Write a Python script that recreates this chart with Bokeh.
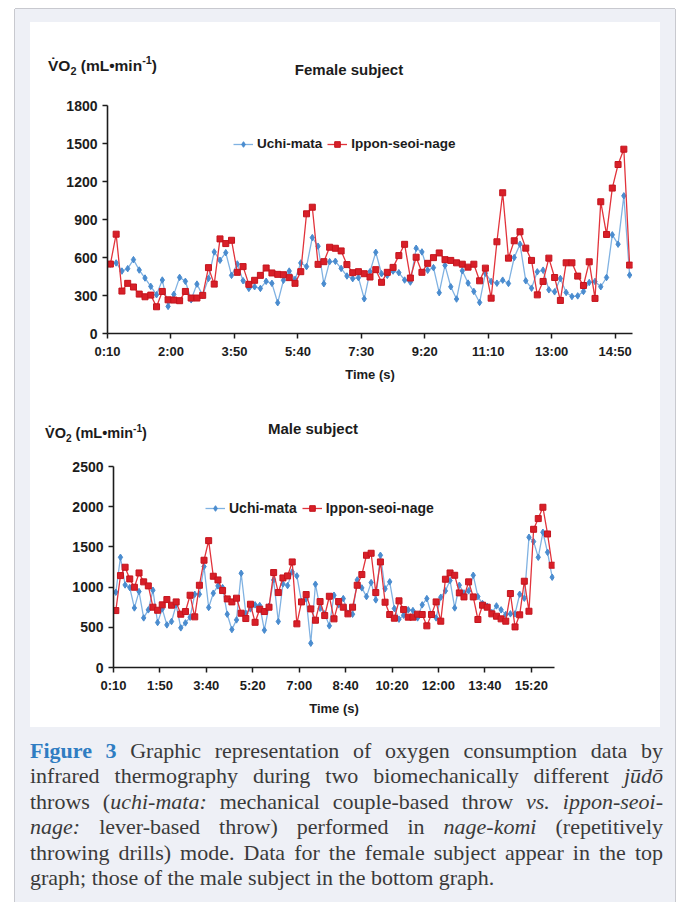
from bokeh.plotting import figure
from bokeh.models import Range1d, FixedTicker, Legend, LegendItem, Div
from bokeh.layouts import column
from bokeh.embed import file_html
from bokeh.resources import INLINE

# ---------------- data ----------------
female_ticks = ["0:10", "2:00", "3:50", "5:40", "7:30", "9:20", "11:10", "13:00", "14:50"]
male_ticks = ["0:10", "1:50", "3:40", "5:20", "7:00", "8:40", "10:20", "12:00", "13:40", "15:20"]

female_uchi = [548, 557, 493, 512, 583, 501, 438, 372, 306, 422,
               214, 309, 443, 412, 266, 390, 301, 435, 644, 578,
               638, 459, 549, 417, 356, 369, 356, 412, 396, 243,
               420, 493, 427, 557, 528, 757, 689, 393, 567, 570,
               514, 454, 433, 441, 274, 488, 641, 472, 459, 493,
               480, 422, 406, 673, 644, 499, 520, 322, 538, 369,
               272, 495, 398, 332, 245, 476, 411, 397, 421, 395,
               600, 705, 416, 358, 487, 500, 345, 329, 434, 324,
               292, 297, 332, 403, 411, 369, 442, 779, 705, 1087,
               461]
female_ippon = [548, 784, 335, 396, 367, 311, 290, 303, 211, 332,
                266, 264, 259, 332, 280, 280, 301, 520, 390, 747,
                710, 736, 483, 528, 388, 420, 459, 517, 478, 467,
                464, 441, 396, 488, 945, 997, 546, 567, 681, 673,
                652, 544, 480, 488, 472, 446, 504, 404, 483, 522,
                615, 704, 438, 602, 483, 554, 599, 636, 583, 577,
                558, 547, 524, 547, 416, 516, 279, 724, 1111, 595,
                732, 803, 674, 577, 305, 411, 595, 442, 261, 558,
                558, 453, 379, 566, 277, 1040, 782, 1148, 1334, 1455,
                540]

male_uchi = [936, 1371, 1027, 994, 741, 944, 617, 717, 961, 559,
             729, 530, 572, 779, 493, 555, 626, 911, 911, 1255,
             746, 924, 1015, 994, 663, 472, 592, 1172, 675, 729,
             779, 771, 464, 762, 1089, 572, 1040, 1019, 1189, 1139,
             820, 853, 302, 1036, 737, 667, 518, 899, 779, 857,
             675, 663, 1089, 990, 882, 1056, 841, 1396, 978, 1065,
             733, 601, 650, 717, 708, 617, 779, 857, 659, 617,
             874, 953, 1081, 741, 1023, 928, 953, 1147, 882, 795,
             762, 684, 766, 717, 659, 667, 667, 911, 862, 1620,
             1566, 1371, 1682, 1433, 1123]
male_ippon = [708, 1143, 1247, 1102, 998, 1176, 1065, 1015, 750, 712,
              779, 845, 775, 816, 663, 696, 899, 630, 1023, 1334,
              1578, 1135, 1089, 957, 853, 816, 862, 675, 609, 787,
              562, 725, 696, 750, 1181, 932, 1114, 1139, 1313, 543,
              816, 907, 729, 588, 820, 646, 886, 605, 820, 750,
              667, 750, 1023, 1156, 1396, 1421, 932, 1313, 812, 659,
              613, 829, 720, 626, 626, 663, 659, 518, 659, 816,
              576, 1098, 1176, 1147, 928, 878, 1065, 878, 597, 775,
              750, 667, 638, 605, 576, 920, 505, 655, 1073, 700,
              1719, 1852, 1993, 1661, 1272]

series_names = ["Uchi-mata", "Ippon-seoi-nage"]
ytitle_html = "V&#775;O<sub style='font-size:70%'>2</sub> (mL&#8226;min<sup style='font-size:70%'>-1</sup>)"
xtitle = "Time (s)"

# ---------------- style ----------------
FONT = "Liberation Sans"
INK = "#1c1c1c"
BLUE_LINE = "#80b2e2"
BLUE_MK = "#4a8ccf"
RED_LINE = "#e2333b"
RED_MK = "#d81f28"


def make_chart(uchi, ippon, tick_labels, per_label, ymax, ystep, width, height,
               borders, legend_loc, legend_fs):
    n = len(uchi)
    xs = [i + 0.5 for i in range(n)]
    left, right, top, bottom = borders
    p = figure(width=width, height=height, x_range=Range1d(0, n), y_range=Range1d(0, ymax),
               output_backend="svg", toolbar_location=None,
               min_border_left=left, min_border_right=right,
               min_border_top=top, min_border_bottom=bottom)
    p.title.visible = False
    p.outline_line_color = None
    p.grid.visible = False
    p.background_fill_color = "white"
    p.border_fill_color = "white"

    l1 = p.line(xs, uchi, line_color=BLUE_LINE, line_width=1.3)
    s1 = p.scatter(xs, uchi, marker="diamond", size=6.5, fill_color=BLUE_MK, line_color=BLUE_MK)
    l2 = p.line(xs, ippon, line_color=RED_LINE, line_width=1.3)
    s2 = p.scatter(xs, ippon, marker="square", size=6, fill_color=RED_MK, line_color="#c4141d")

    p.xaxis.ticker = FixedTicker(ticks=[k * per_label for k in range(len(tick_labels))])
    p.xaxis.major_label_overrides = {k * per_label: lab for k, lab in enumerate(tick_labels)}
    p.yaxis.ticker = FixedTicker(ticks=list(range(0, ymax + 1, ystep)))
    for ax in (p.xaxis, p.yaxis):
        ax.axis_line_color = INK
        ax.axis_line_width = 1.6
        ax.major_tick_line_color = INK
        ax.major_tick_line_width = 1.5
        ax.major_tick_out = 5
        ax.major_tick_in = 0
        ax.minor_tick_line_color = None
        ax.major_label_text_font = FONT
        ax.major_label_text_font_style = "bold"
        ax.major_label_text_color = INK
        ax.major_label_standoff = 5
    p.xaxis.major_label_text_font_size = "13px"
    p.yaxis.major_label_text_font_size = "14px"
    p.xaxis.axis_label = xtitle
    p.xaxis.axis_label_text_font = FONT
    p.xaxis.axis_label_text_font_style = "bold"
    p.xaxis.axis_label_text_font_size = "13px"
    p.xaxis.axis_label_text_color = INK
    p.xaxis.axis_label_standoff = 5

    leg = Legend(items=[LegendItem(label=series_names[0], renderers=[l1, s1]),
                        LegendItem(label=series_names[1], renderers=[l2, s2])],
                 location=legend_loc, orientation="horizontal",
                 border_line_color=None, background_fill_alpha=0,
                 padding=0, margin=0, spacing=5, glyph_width=20, glyph_height=14,
                 label_height=14, label_standoff=4,
                 label_text_font=FONT, label_text_font_style="bold",
                 label_text_font_size=legend_fs, label_text_color=INK)
    p.add_layout(leg)
    return p


def header(title, height, title_cx, title_cy, ytitle_left, ytitle_cy, ytitle_fs):
    html = (f"<div style=\"position:relative;width:630px;height:{height}px;"
            f"font-family:'Liberation Sans';font-weight:bold;color:{INK};\">"
            f"<span style='position:absolute;left:{ytitle_left}px;top:{ytitle_cy}px;"
            f"transform:translateY(-50%);font-size:{ytitle_fs};white-space:nowrap;line-height:1'>"
            f"{ytitle_html}</span>"
            f"<span style='position:absolute;left:{title_cx}px;top:{title_cy}px;"
            f"transform:translate(-50%,-50%);font-size:15px;white-space:nowrap;line-height:1'>"
            f"{title}</span></div>")
    return Div(text=html, width=630, height=height, margin=(0, 0, 0, 0))


# top chart: frame at page x 107..632, y 105..333
head1 = header("Female subject", 60, 319, 47, 18, 44, "15.5px")
fig1 = make_chart(female_uchi, female_ippon, female_ticks, 11, 1800, 300, 630, 313,
                  (77, 28, 23, 62), (126, 182), "13.5px")
fig1.margin = (0, 0, 0, 0)

# bottom chart: frame at page x 113..554, y 466..667
head2 = header("Male subject", 55, 283, 33, 15, 39, "14.5px")
fig2 = make_chart(male_uchi, male_ippon, male_ticks, 10, 2500, 500, 546, 277,
                  (77, 28, 16, 60), (92, 151), "14px")
fig2.margin = (0, 0, 0, 6)

inner1 = column(head1, fig1, margin=(13, 15, 0, 15), styles={"background-color": "white"})
inner2 = column(head2, fig2, margin=(0, 15, 0, 15), styles={"background-color": "white"})

line_style = "text-align:justify;text-align-last:justify;"
last_style = "text-align:left;"
cap_lines = [
    "<b style='color:#2f7dc2'>Figure 3</b> Graphic representation of oxygen consumption data by",
    "infrared thermography during two biomechanically different <i>j\u016bd\u014d</i>",
    "throws (<i>uchi-mata:</i> mechanical couple-based throw <i>vs. ippon-seoi-</i>",
    "<i>nage:</i> lever-based throw) performed in <i>nage-komi</i> (repetitively",
    "throwing drills) mode. Data for the female subject appear in the top",
    "graph; those of the male subject in the bottom graph.",
]
html = "<div style=\"font-family:'Liberation Serif';font-size:22px;line-height:25.4px;color:#3a3a3a;width:633px;\">"
for k, ln in enumerate(cap_lines):
    st = last_style if k == len(cap_lines) - 1 else line_style
    html += f"<div style='{st}'>{ln}</div>"
html += "</div>"
cap = Div(text=html, width=633, height=153, margin=(11, 12, 0, 15))

root = column(inner1, inner2, cap, margin=(9, 0, 0, 15),
              styles={"background-color": "#eef0f6",
                      "box-shadow": "0 14px 0 0 #eef0f6, -1px 0 0 0 #c8c9cf, 1px 0 0 0 #c8c9cf, "
                                    "0 -1px 0 0 #c8c9cf, -1px 14px 0 0 #c8c9cf, 1px 14px 0 0 #c8c9cf"})

open("out.html", "w").write(file_html(root, INLINE))
